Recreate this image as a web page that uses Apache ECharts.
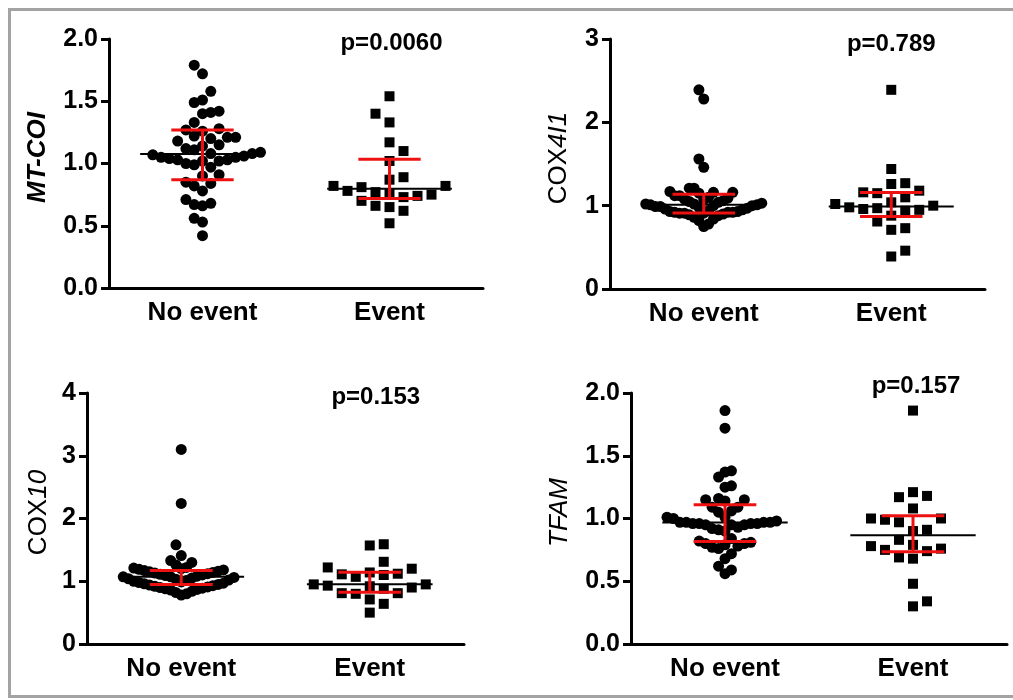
<!DOCTYPE html>
<html>
<head>
<meta charset="utf-8">
<script src="https://cdn.jsdelivr.net/npm/echarts@6/dist/echarts.min.js"></script>
<style>
html, body { margin: 0; padding: 0; background: #fff; }
#chart { width: 1013px; height: 700px; }
</style>
</head>
<body>
<div id="chart"></div>
<script>
// Groups and genes
const groups = ['No event', 'Event'];
const geneNames = ['{b|MT-COI}', '{u|COX}{i|4I1}', '{u|COX}{i|10}', '{i|TFAM}'];
const pValues = ['p=0.0060', 'p=0.789', 'p=0.153', 'p=0.157'];

// Y axis ranges and tick steps
const yMax = [2, 3, 4, 2];
const yStep = [0.5, 1, 1, 0.5];
const yDecimals = [1, 0, 0, 1];

// MT-COI relative expression
const mtcoiNoEvent = [1.79, 1.72, 1.58, 1.51, 1.49, 1.42, 1.41, 1.40, 1.33, 1.28, 1.27, 1.26,
  1.22, 1.21, 1.21, 1.20, 1.18, 1.15, 1.14, 1.12, 1.11, 1.09, 1.08, 1.08, 1.07, 1.06, 1.05,
  1.05, 1.04, 1.03, 1.03, 1.02, 1.02, 1.00, 0.99, 0.97, 0.91, 0.90, 0.85, 0.84, 0.82, 0.78,
  0.71, 0.68, 0.67, 0.66, 0.56, 0.53, 0.42];
const mtcoiEvent = [1.54, 1.40, 1.33, 1.17, 1.10, 1.02, 0.89, 0.87, 0.82, 0.82, 0.81, 0.78,
  0.77, 0.76, 0.75, 0.74, 0.73, 0.70, 0.66, 0.65, 0.62, 0.52];

// COX4I1 relative expression
const cox4i1NoEvent = [2.39, 2.28, 1.56, 1.46, 1.21, 1.21, 1.17, 1.16, 1.16, 1.15, 1.12, 1.12,
  1.10, 1.09, 1.08, 1.07, 1.06, 1.05, 1.04, 1.03, 1.02, 1.02, 1.01, 1.01, 1.00, 1.00, 0.99,
  0.99, 0.98, 0.97, 0.96, 0.95, 0.94, 0.93, 0.93, 0.92, 0.92, 0.92, 0.91, 0.91, 0.91, 0.90,
  0.89, 0.88, 0.86, 0.84, 0.82, 0.78, 0.75];
const cox4i1Event = [2.39, 1.44, 1.27, 1.26, 1.18, 1.16, 1.15, 1.10, 1.04, 1.02, 1.00, 0.98,
  0.97, 0.96, 0.95, 0.94, 0.88, 0.81, 0.73, 0.71, 0.46, 0.39];

// COX10 relative expression
const cox10NoEvent = [3.10, 2.24, 1.58, 1.41, 1.33, 1.30, 1.26, 1.22, 1.21, 1.20, 1.19, 1.18,
  1.17, 1.16, 1.15, 1.14, 1.13, 1.12, 1.11, 1.10, 1.09, 1.08, 1.07, 1.07, 1.06, 1.05, 1.04,
  1.03, 1.02, 1.01, 1.00, 0.99, 0.98, 0.97, 0.96, 0.95, 0.94, 0.93, 0.92, 0.91, 0.90, 0.89,
  0.88, 0.87, 0.86, 0.84, 0.82, 0.80, 0.78];
const cox10Event = [1.59, 1.57, 1.31, 1.22, 1.20, 1.14, 1.12, 1.11, 1.10, 1.07, 0.95, 0.95,
  0.93, 0.92, 0.90, 0.88, 0.81, 0.81, 0.80, 0.71, 0.64, 0.50];

// TFAM relative expression
const tfamNoEvent = [1.86, 1.72, 1.38, 1.37, 1.33, 1.26, 1.25, 1.16, 1.15, 1.15, 1.14, 1.09,
  1.09, 1.06, 1.05, 1.01, 1.01, 1.00, 0.98, 0.97, 0.97, 0.97, 0.97, 0.96, 0.96, 0.96, 0.96,
  0.95, 0.95, 0.95, 0.93, 0.92, 0.91, 0.90, 0.84, 0.82, 0.81, 0.80, 0.80, 0.79, 0.78, 0.77,
  0.76, 0.72, 0.68, 0.62, 0.59, 0.56];
const tfamEvent = [1.86, 1.21, 1.18, 1.17, 1.08, 1.00, 1.00, 0.99, 0.97, 0.91, 0.90, 0.83,
  0.79, 0.78, 0.76, 0.75, 0.74, 0.69, 0.68, 0.48, 0.34, 0.30];

// Median and interquartile range per group [No event, Event]
const mtcoiMedian = [1.077, 0.797], mtcoiQ1 = [0.87, 0.719], mtcoiQ3 = [1.27, 1.035];
const cox4i1Median = [1.01, 0.99], cox4i1Q1 = [0.911, 0.87], cox4i1Q3 = [1.138, 1.158];
const cox10Median = [1.07, 0.952], cox10Q1 = [0.95, 0.824], cox10Q3 = [1.17, 1.143];
const tfamMedian = [0.968, 0.867], tfamQ1 = [0.816, 0.736], tfamQ3 = [1.109, 1.021];

const panelData = [
  { noEvent: mtcoiNoEvent, event: mtcoiEvent, med: mtcoiMedian, q1: mtcoiQ1, q3: mtcoiQ3 },
  { noEvent: cox4i1NoEvent, event: cox4i1Event, med: cox4i1Median, q1: cox4i1Q1, q3: cox4i1Q3 },
  { noEvent: cox10NoEvent, event: cox10Event, med: cox10Median, q1: cox10Q1, q3: cox10Q3 },
  { noEvent: tfamNoEvent, event: tfamEvent, med: tfamMedian, q1: tfamQ1, q3: tfamQ3 }
];

// Layout
const FONT = "'Liberation Sans', Arial, Helvetica, sans-serif";
const boxes = [
  { left: 109, top: 39, width: 374, height: 249 },
  { left: 610, top: 39, width: 375, height: 250 },
  { left: 87, top: 393, width: 377, height: 251 },
  { left: 631, top: 393, width: 376, height: 251 }
];
const nameGaps = [58, 38, 35, 58];
const pLabelShift = [[2, 4], [0, 5], [6, 4], [3, -7]];
const GAP_X = 14;       // minimum sideways distance between dots that share a row
const GAP_Y = 13;       // dots closer than this vertically share a row
const HALF_SPAN = 58;   // widest a column may spread from its centre

// Column scatter layout: working up from the lowest value, each dot takes
// the slot nearest the column centre (slots every half dot-spacing) that keeps
// clear of the dots already placed; crowded columns are then squeezed to fit.
function swarmOffsets(values, pxPerUnit) {
  const half = GAP_X / 2;
  const order = values.map((v, i) => i).sort((a, b) => values[a] - values[b]);
  const placed = [];
  const out = new Array(values.length);
  order.forEach((idx, k) => {
    const y = values[idx] * pxPerUnit;
    const near = placed.filter(p => Math.abs(p.y - y) < GAP_Y);
    const first = k % 2 ? 1 : -1;
    let x = 0;
    for (let j = 0; j < 200; j++) {
      const c = j === 0 ? 0 : (j % 2 ? first : -first) * Math.ceil(j / 2) * half;
      if (near.every(p => Math.abs(p.x - c) >= GAP_X - 0.01)) { x = c; break; }
    }
    placed.push({ x: x, y: y });
    out[idx] = x;
  });
  const widest = Math.max.apply(null, out.map(Math.abs));
  const squeeze = widest > HALF_SPAN ? HALF_SPAN / widest : 1;
  return out.map(x => x * squeeze);
}

function toPoints(values, cat, box, ymax) {
  const pxPerUnit = box.height / ymax;
  const bandPx = box.width / 2;
  const off = swarmOffsets(values, pxPerUnit);
  return values.map((v, i) => [cat + off[i] / bandPx, v]);
}

function renderStats(params, api) {
  const cat = api.value(0);
  const band = api.size([1, 0])[0];
  const pm = api.coord([cat, api.value(1)]);
  const p1 = api.coord([cat, api.value(2)]);
  const p3 = api.coord([cat, api.value(3)]);
  const red = { stroke: '#ee1111', lineWidth: 3 };
  return {
    type: 'group',
    children: [
      { type: 'line', shape: { x1: pm[0] - band / 3, y1: pm[1], x2: pm[0] + band / 3, y2: pm[1] },
        style: { stroke: '#000', lineWidth: 2 } },
      { type: 'line', shape: { x1: p1[0], y1: p1[1], x2: p3[0], y2: p3[1] }, style: red },
      { type: 'line', shape: { x1: p1[0] - band / 6, y1: p1[1], x2: p1[0] + band / 6, y2: p1[1] }, style: red },
      { type: 'line', shape: { x1: p3[0] - band / 6, y1: p3[1], x2: p3[0] + band / 6, y2: p3[1] }, style: red }
    ]
  };
}

const grid = [], xAxis = [], yAxis = [], series = [], graphic = [];

boxes.forEach((b, i) => {
  grid.push({ left: b.left, top: b.top, width: b.width, height: b.height,
    containLabel: false, outerBoundsMode: 'none' });
  xAxis.push({
    gridIndex: i, type: 'category', data: groups, boundaryGap: true,
    axisLine: { onZero: false, lineStyle: { color: '#000', width: 3 } },
    axisTick: { alignWithLabel: true, length: 7, lineStyle: { color: '#000', width: 3 } },
    axisLabel: { color: '#000', fontSize: 26, fontWeight: 'bold', fontFamily: FONT, margin: 12 },
    splitLine: { show: false }
  });
  xAxis.push({ gridIndex: i, type: 'value', min: -0.5, max: 1.5, show: false });
  const dec = yDecimals[i];
  yAxis.push({
    gridIndex: i, type: 'value', position: 'left', min: 0, max: yMax[i], interval: yStep[i],
    axisLine: { show: true, onZero: false, lineStyle: { color: '#000', width: 3 } },
    axisTick: { show: true, length: 8, lineStyle: { color: '#000', width: 3 } },
    splitLine: { show: false },
    axisLabel: { color: '#000', fontSize: 25, fontWeight: 'bold', fontFamily: FONT, margin: 11,
      formatter: v => v.toFixed(dec) },
    name: geneNames[i], nameLocation: 'middle', nameGap: nameGaps[i], nameRotate: 90,
    nameTextStyle: {
      color: '#000', fontSize: 26, fontFamily: FONT, padding: [0, 0, 0, 12],
      rich: {
        u: { fontSize: 26, fontFamily: FONT, color: '#000' },
        i: { fontSize: 26, fontFamily: FONT, color: '#000', fontStyle: 'italic' },
        b: { fontSize: 26, fontFamily: FONT, color: '#000', fontStyle: 'italic', fontWeight: 'bold' }
      }
    }
  });

  const d = panelData[i];
  series.push({
    type: 'scatter', xAxisIndex: 2 * i + 1, yAxisIndex: i,
    symbol: 'circle', symbolSize: 11, itemStyle: { color: '#000', opacity: 1 },
    data: toPoints(d.noEvent, 0, b, yMax[i]), silent: true, z: 2
  });
  series.push({
    type: 'scatter', xAxisIndex: 2 * i + 1, yAxisIndex: i,
    symbol: 'rect', symbolSize: 10, itemStyle: { color: '#000', opacity: 1 },
    data: toPoints(d.event, 1, b, yMax[i]), silent: true, z: 2
  });
  series.push({
    type: 'custom', xAxisIndex: 2 * i + 1, yAxisIndex: i, silent: true, z: 3,
    renderItem: renderStats,
    encode: { x: 0, y: 1 },
    data: [0, 1].map(c => [c, d.med[c], d.q1[c], d.q3[c]])
  });

  graphic.push({
    type: 'text', z: 10,
    x: b.left + 0.75 * b.width + pLabelShift[i][0],
    y: b.top + pLabelShift[i][1],
    style: { text: pValues[i], font: 'bold 24px ' + FONT, fill: '#000',
      align: 'center', verticalAlign: 'middle' }
  });
});

// Gray frame around the figure
graphic.push({
  type: 'rect', z: -1, silent: true,
  shape: { x: 9.5, y: 9.5, width: 1012, height: 687 },
  style: { fill: 'none', stroke: '#a3a3a3', lineWidth: 3 }
});

const chart = echarts.init(document.getElementById('chart'), null, { renderer: 'canvas' });
chart.setOption({
  animation: false,
  backgroundColor: '#fff',
  grid: grid,
  xAxis: xAxis,
  yAxis: yAxis,
  series: series,
  graphic: graphic
});
</script>
</body>
</html>
